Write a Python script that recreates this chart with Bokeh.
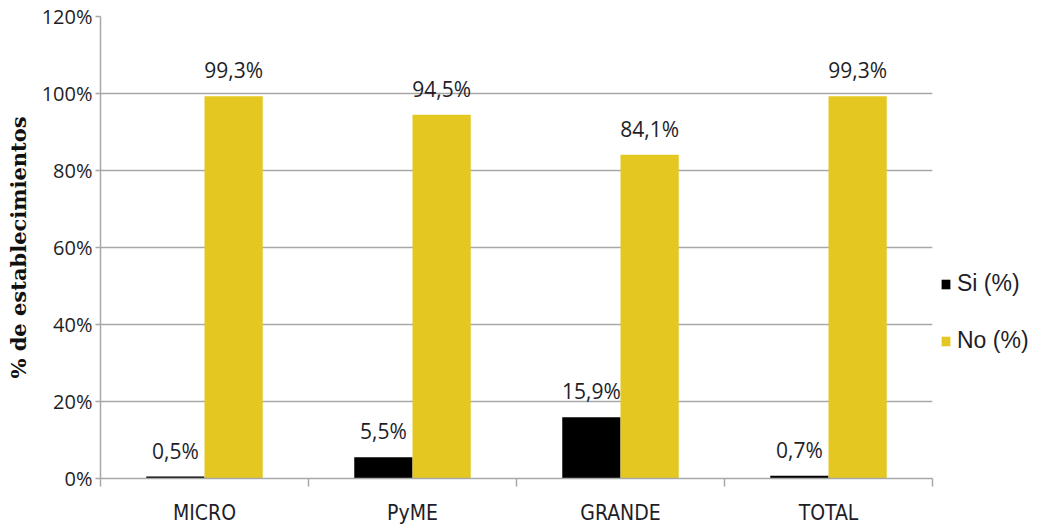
from bokeh.plotting import figure
from bokeh.models import ColumnDataSource, FixedTicker, Legend, LegendItem, Range1d
from bokeh.embed import file_html
from bokeh.resources import INLINE
from bokeh.core.properties import value

categories = ["MICRO", "PyME", "GRANDE", "TOTAL"]
si_values = [0.5, 5.5, 15.9, 0.7]
no_values = [99.3, 94.5, 84.1, 99.3]
y_ticks = [0, 20, 40, 60, 80, 100, 120]
series_names = ["Si (%)", "No (%)"]

SI_COLOR = "#000000"
NO_COLOR = "#E5C722"
GRID = "#A8A8A8"
TEXT = "#1E1E28"

n = len(categories)
centers = [i + 0.5 for i in range(n)]
bw = 0.28


def fmt(v):
    return f"{v:.1f}%".replace(".", ",")


src = ColumnDataSource(dict(
    x_si=[c - bw / 2 for c in centers],
    x_no=[c + bw / 2 for c in centers],
    si=si_values,
    no=no_values,
    si_lbl=[fmt(v) for v in si_values],
    no_lbl=[fmt(v) for v in no_values],
))

p = figure(frame_width=832, frame_height=462, x_range=Range1d(0, n), y_range=Range1d(0, 120),
           output_backend="svg", toolbar_location=None,
           min_border_left=100, min_border_top=16, min_border_right=0, min_border_bottom=0)
p.outline_line_color = None
p.background_fill_color = "white"
p.border_fill_color = "white"

r_si = p.vbar(x="x_si", top="si", width=bw, source=src, fill_color=SI_COLOR, line_color=None)
r_no = p.vbar(x="x_no", top="no", width=bw, source=src, fill_color=NO_COLOR, line_color=None)

for xcol, ycol, tcol in [("x_si", "si", "si_lbl"), ("x_no", "no", "no_lbl")]:
    p.text(x=xcol, y=ycol, text=tcol, source=src, text_align="center", text_baseline="bottom",
           y_offset=-12, text_font=value("Open Sans"), text_font_size="21px", text_color=TEXT)

# x axis
p.xaxis.ticker = FixedTicker(ticks=centers, minor_ticks=list(range(n + 1)))
p.xaxis.major_label_overrides = {c: cat for c, cat in zip(centers, categories)}
p.xaxis.major_tick_line_color = None
p.xaxis.major_tick_out = 0
p.xaxis.major_tick_in = 0
p.xaxis.minor_tick_out = 8
p.xaxis.minor_tick_in = 0
p.xaxis.minor_tick_line_color = GRID
p.xaxis.minor_tick_line_width = 1.5
p.xaxis.axis_line_color = GRID
p.xaxis.axis_line_width = 1.5
p.xaxis.major_label_standoff = 14
p.xaxis.major_label_text_font = "DejaVu Sans Condensed"
p.xaxis.major_label_text_font_size = "21px"
p.xaxis.major_label_text_color = TEXT
p.xgrid.grid_line_color = None

# y axis
p.yaxis.ticker = FixedTicker(ticks=y_ticks, minor_ticks=[])
p.yaxis.major_label_overrides = {t: f"{t}%" for t in y_ticks}
p.yaxis.major_tick_out = 5
p.yaxis.major_tick_in = 0
p.yaxis.major_tick_line_color = GRID
p.yaxis.major_tick_line_width = 1.5
p.yaxis.axis_line_color = GRID
p.yaxis.axis_line_width = 1.5
p.yaxis.major_label_standoff = 3
p.yaxis.major_label_text_font = "Open Sans"
p.yaxis.major_label_text_font_size = "20px"
p.yaxis.major_label_text_color = TEXT
p.yaxis.axis_label = "% de establecimientos"
p.yaxis.axis_label_text_font = "DejaVu Serif"
p.yaxis.axis_label_text_font_style = "bold"
p.yaxis.axis_label_text_font_size = "21px"
p.yaxis.axis_label_text_color = "#111111"
p.yaxis.axis_label_standoff = 8
p.ygrid.ticker = FixedTicker(ticks=y_ticks)
p.ygrid.grid_line_color = GRID
p.ygrid.grid_line_width = 1.5

legend = Legend(items=[LegendItem(label=series_names[0], renderers=[r_si]),
                       LegendItem(label=series_names[1], renderers=[r_no])],
                location=(8, 124), orientation="vertical")
legend.border_line_color = None
legend.background_fill_color = None
legend.margin = 0
legend.padding = 0
legend.spacing = 30
legend.glyph_width = 11
legend.glyph_height = 12
legend.label_height = 24
legend.label_standoff = 6
legend.label_text_font = "Liberation Sans"
legend.label_text_font_size = "23px"
legend.label_text_color = TEXT
p.add_layout(legend, "right")

open("out.html", "w").write(file_html(p, INLINE))
